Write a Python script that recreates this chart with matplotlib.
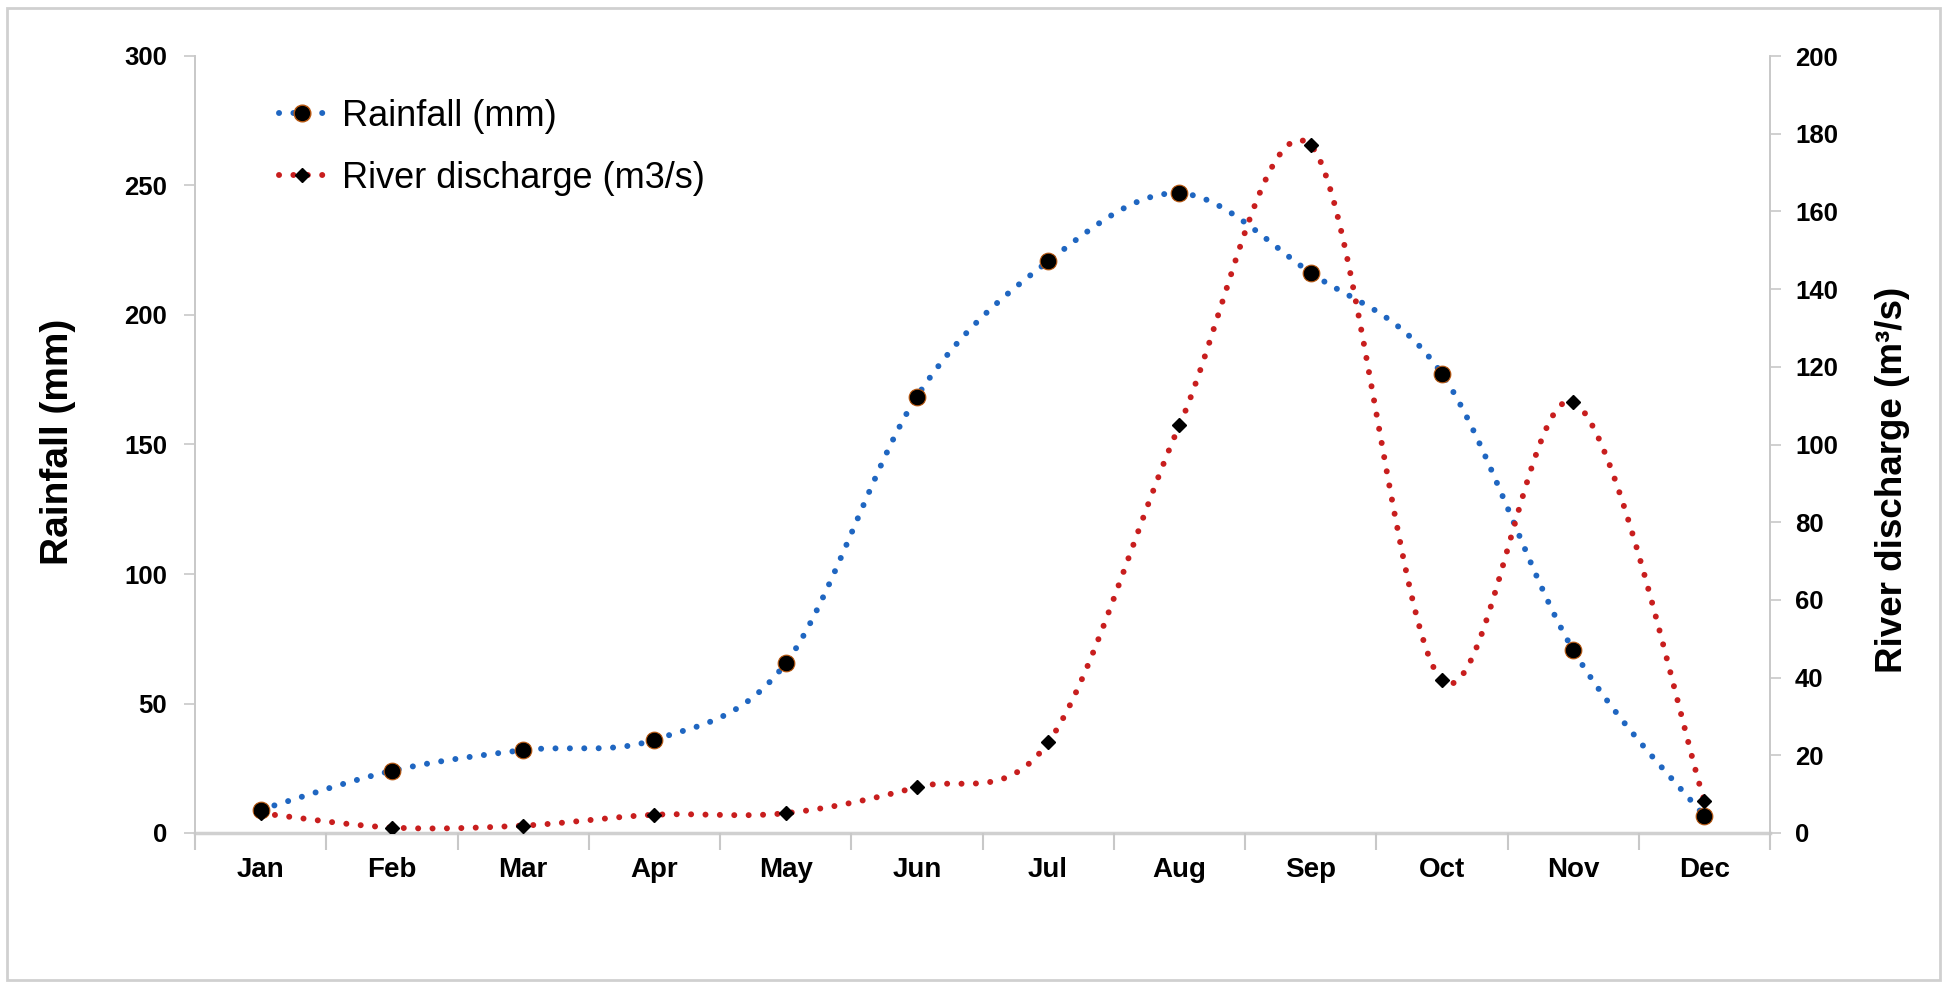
import numpy as np
import matplotlib
matplotlib.use("Agg")
import matplotlib.pyplot as plt
from matplotlib.patches import Rectangle
from matplotlib.lines import Line2D

plt.rcParams['font.family'] = ['Liberation Sans', 'DejaVu Sans']

months = ['Jan', 'Feb', 'Mar', 'Apr', 'May', 'Jun', 'Jul', 'Aug', 'Sep', 'Oct', 'Nov', 'Dec']
rainfall = [9, 24, 32, 36, 65.5, 168.5, 220.7, 247, 216.3, 177.3, 70.7, 6.5]
discharge = [5.1, 1.4, 1.9, 4.7, 5.1, 11.8, 23.3, 104.9, 177, 39.3, 111, 8.3]
rain_ticks = [0, 50, 100, 150, 200, 250, 300]
dis_ticks = [0, 20, 40, 60, 80, 100, 120, 140, 160, 180, 200]

BLUE = '#1f66c1'
RED = '#c81e1e'
GRAY = '#c8c8c8'


def smooth(xs, ys, n=40):
    """Catmull-Rom style Bezier smoothing (like a spreadsheet 'smoothed line')."""
    xs = np.asarray(xs, float)
    ys = np.asarray(ys, float)
    px = np.concatenate([[xs[0]], xs, [xs[-1]]])
    py = np.concatenate([[ys[0]], ys, [ys[-1]]])
    outx, outy = [], []
    t = np.linspace(0, 1, n)
    for i in range(1, len(px) - 2):
        p0 = np.array([px[i], py[i]])
        p3 = np.array([px[i + 1], py[i + 1]])
        c1 = p0 + (np.array([px[i + 1], py[i + 1]]) - np.array([px[i - 1], py[i - 1]])) / 6.0
        c2 = p3 - (np.array([px[i + 2], py[i + 2]]) - np.array([px[i], py[i]])) / 6.0
        b = ((1 - t) ** 3)[:, None] * p0 + (3 * (1 - t) ** 2 * t)[:, None] * c1 \
            + (3 * (1 - t) * t ** 2)[:, None] * c2 + (t ** 3)[:, None] * p3
        if i > 1:
            b = b[1:]
        outx.extend(b[:, 0])
        outy.extend(b[:, 1])
    return np.array(outx), np.array(outy)


fig = plt.figure(figsize=(19.5, 9.91), dpi=100)
fig.patch.set_facecolor('white')
fig.patches.append(Rectangle((7 / 1950, 1 - 980 / 991), (1940 - 7) / 1950, (980 - 8) / 991,
                             transform=fig.transFigure, fill=False, edgecolor='#d0d0d0', lw=2))

ax = fig.add_axes([195 / 1950, 1 - 833 / 991, (1770 - 195) / 1950, (833 - 56) / 991])
ax2 = ax.twinx()

x = np.arange(len(months))
dot = (0, (0.01, 2.4))
lw = 4.3

sx, sy = smooth(x, rainfall)
ax.plot(sx, sy, color=BLUE, lw=lw, linestyle=dot, dash_capstyle='round', zorder=2)
ax.plot(x, rainfall, linestyle='none', marker='o', markersize=12, markerfacecolor='black',
        markeredgecolor='#b8570f', markeredgewidth=0.8, zorder=3)

sx2, sy2 = smooth(x, discharge)
ax2.plot(sx2, sy2, color=RED, lw=lw, linestyle=dot, dash_capstyle='round', zorder=2)
ax2.plot(x, discharge, linestyle='none', marker='D', markersize=7.5, markerfacecolor='black',
         markeredgecolor='black', zorder=3)

ax.set_xlim(-0.5, len(months) - 0.5)
ax.set_ylim(0, 300)
ax2.set_ylim(0, 200)
ax.set_yticks(rain_ticks)
ax2.set_yticks(dis_ticks)
ax.set_xticks(x)
ax.set_xticklabels(months, fontsize=20, fontweight='bold')
ax.set_xticks(np.arange(-0.5, len(months)), minor=True)
ax.tick_params(axis='x', which='major', length=0, pad=17)
ax.tick_params(axis='x', which='minor', length=12, width=1.5, color=GRAY, direction='out')
ax.tick_params(axis='y', length=8, width=1.2, color=GRAY, pad=12, labelsize=18.5)
ax2.tick_params(axis='y', length=8, width=1.2, color=GRAY, pad=10, labelsize=18.5)
for lab in ax.get_yticklabels() + ax2.get_yticklabels():
    lab.set_fontweight('bold')

for a in (ax, ax2):
    a.spines['top'].set_visible(False)
    a.spines['left'].set_color(GRAY)
    a.spines['right'].set_color(GRAY)
    a.spines['left'].set_linewidth(1.2)
    a.spines['right'].set_linewidth(1.2)
    a.spines['bottom'].set_visible(False)
ax.spines['bottom'].set_visible(True)
ax.spines['bottom'].set_color('#d0d0d0')
ax.spines['bottom'].set_linewidth(2.5)
ax.spines['bottom'].set_zorder(1)

fig.text(58 / 1950, 1 - 442 / 991, 'Rainfall (mm)', rotation=90, ha='center', va='center',
         fontsize=28, fontweight='bold')
fig.text(1893 / 1950, 1 - 480 / 991, 'River discharge (m³/s)', rotation=90, ha='center',
         va='center', fontsize=26.5, fontweight='bold')

h1 = Line2D([], [], color=BLUE, lw=lw, linestyle=dot, dash_capstyle='round', marker='o',
            markersize=12, markerfacecolor='black', markeredgecolor='#b8570f')
h2 = Line2D([], [], color=RED, lw=lw, linestyle=dot, dash_capstyle='round', marker='D',
            markersize=7.5, markerfacecolor='black', markeredgecolor='black')
fig.legend([h1, h2], ['Rainfall (mm)', 'River discharge (m3/s)'], loc='upper left',
           bbox_to_anchor=(279 / 1950, 1 - 99 / 991), frameon=False, fontsize=26,
           handlelength=1.3, handletextpad=0.45, borderpad=0, borderaxespad=0,
           labelspacing=0.74)

fig.savefig('out.png', dpi=100, facecolor='white')
